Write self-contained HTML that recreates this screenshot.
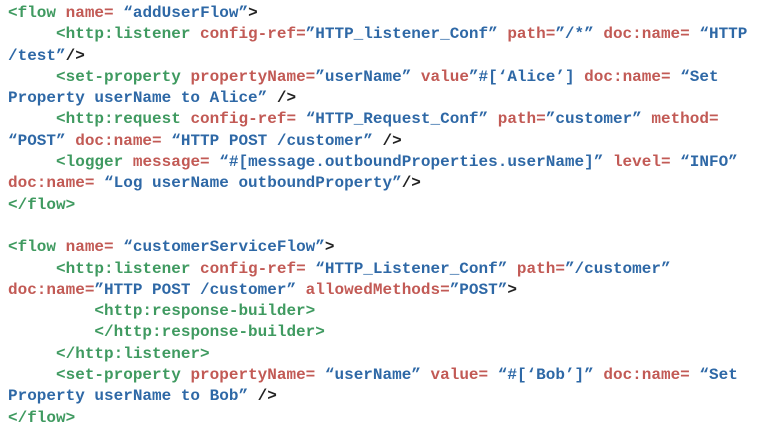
<!DOCTYPE html>
<html><head><meta charset="utf-8"><style>
html,body{margin:0;padding:0;background:#fff;width:757px;height:431px;overflow:hidden}
pre{margin:0;position:absolute;left:8px;top:3px;font-family:"Liberation Mono",monospace;font-size:16px;line-height:21.3px;font-weight:bold;color:#222;white-space:pre}
.g{color:#3f9a60}.r{color:#c25a55}.b{color:#2e68a6}.k{color:#222}
</style></head><body>
<pre><span class="g">&lt;flow</span> <span class="r">name=</span> <span class="b">“addUserFlow”</span><span class="k">&gt;</span>
     <span class="g">&lt;http:listener</span> <span class="r">config-ref=</span><span class="b">”HTTP_listener_Conf”</span> <span class="r">path=</span><span class="b">”/*”</span> <span class="r">doc:name=</span> <span class="b">“HTTP</span>
<span class="b">/test”</span><span class="k">/&gt;</span>
     <span class="g">&lt;set-property</span> <span class="r">propertyName=</span><span class="b">”userName”</span> <span class="r">value</span><span class="b">”#[‘Alice’]</span> <span class="r">doc:name=</span> <span class="b">“Set</span>
<span class="b">Property userName to Alice”</span> <span class="k">/&gt;</span>
     <span class="g">&lt;http:request</span> <span class="r">config-ref=</span> <span class="b">“HTTP_Request_Conf”</span> <span class="r">path=</span><span class="b">”customer”</span> <span class="r">method=</span>
<span class="b">“POST”</span> <span class="r">doc:name=</span> <span class="b">“HTTP POST /customer”</span> <span class="k">/&gt;</span>
     <span class="g">&lt;logger</span> <span class="r">message=</span> <span class="b">“#[message.outboundProperties.userName]”</span> <span class="r">level=</span> <span class="b">“INFO”</span>
<span class="r">doc:name=</span> <span class="b">“Log userName outboundProperty”</span><span class="k">/&gt;</span>
<span class="g">&lt;/flow&gt;</span>

<span class="g">&lt;flow</span> <span class="r">name=</span> <span class="b">“customerServiceFlow”</span><span class="k">&gt;</span>
     <span class="g">&lt;http:listener</span> <span class="r">config-ref=</span> <span class="b">“HTTP_Listener_Conf”</span> <span class="r">path=</span><span class="b">”/customer”</span>
<span class="r">doc:name=</span><span class="b">”HTTP POST /customer”</span> <span class="r">allowedMethods=</span><span class="b">”POST”</span><span class="k">&gt;</span>
         <span class="g">&lt;http:response-builder&gt;</span>
         <span class="g">&lt;/http:response-builder&gt;</span>
     <span class="g">&lt;/http:listener&gt;</span>
     <span class="g">&lt;set-property</span> <span class="r">propertyName=</span> <span class="b">“userName”</span> <span class="r">value=</span> <span class="b">“#[‘Bob’]”</span> <span class="r">doc:name=</span> <span class="b">“Set</span>
<span class="b">Property userName to Bob”</span> <span class="k">/&gt;</span>
<span class="g">&lt;/flow&gt;</span></pre>
</body></html>
